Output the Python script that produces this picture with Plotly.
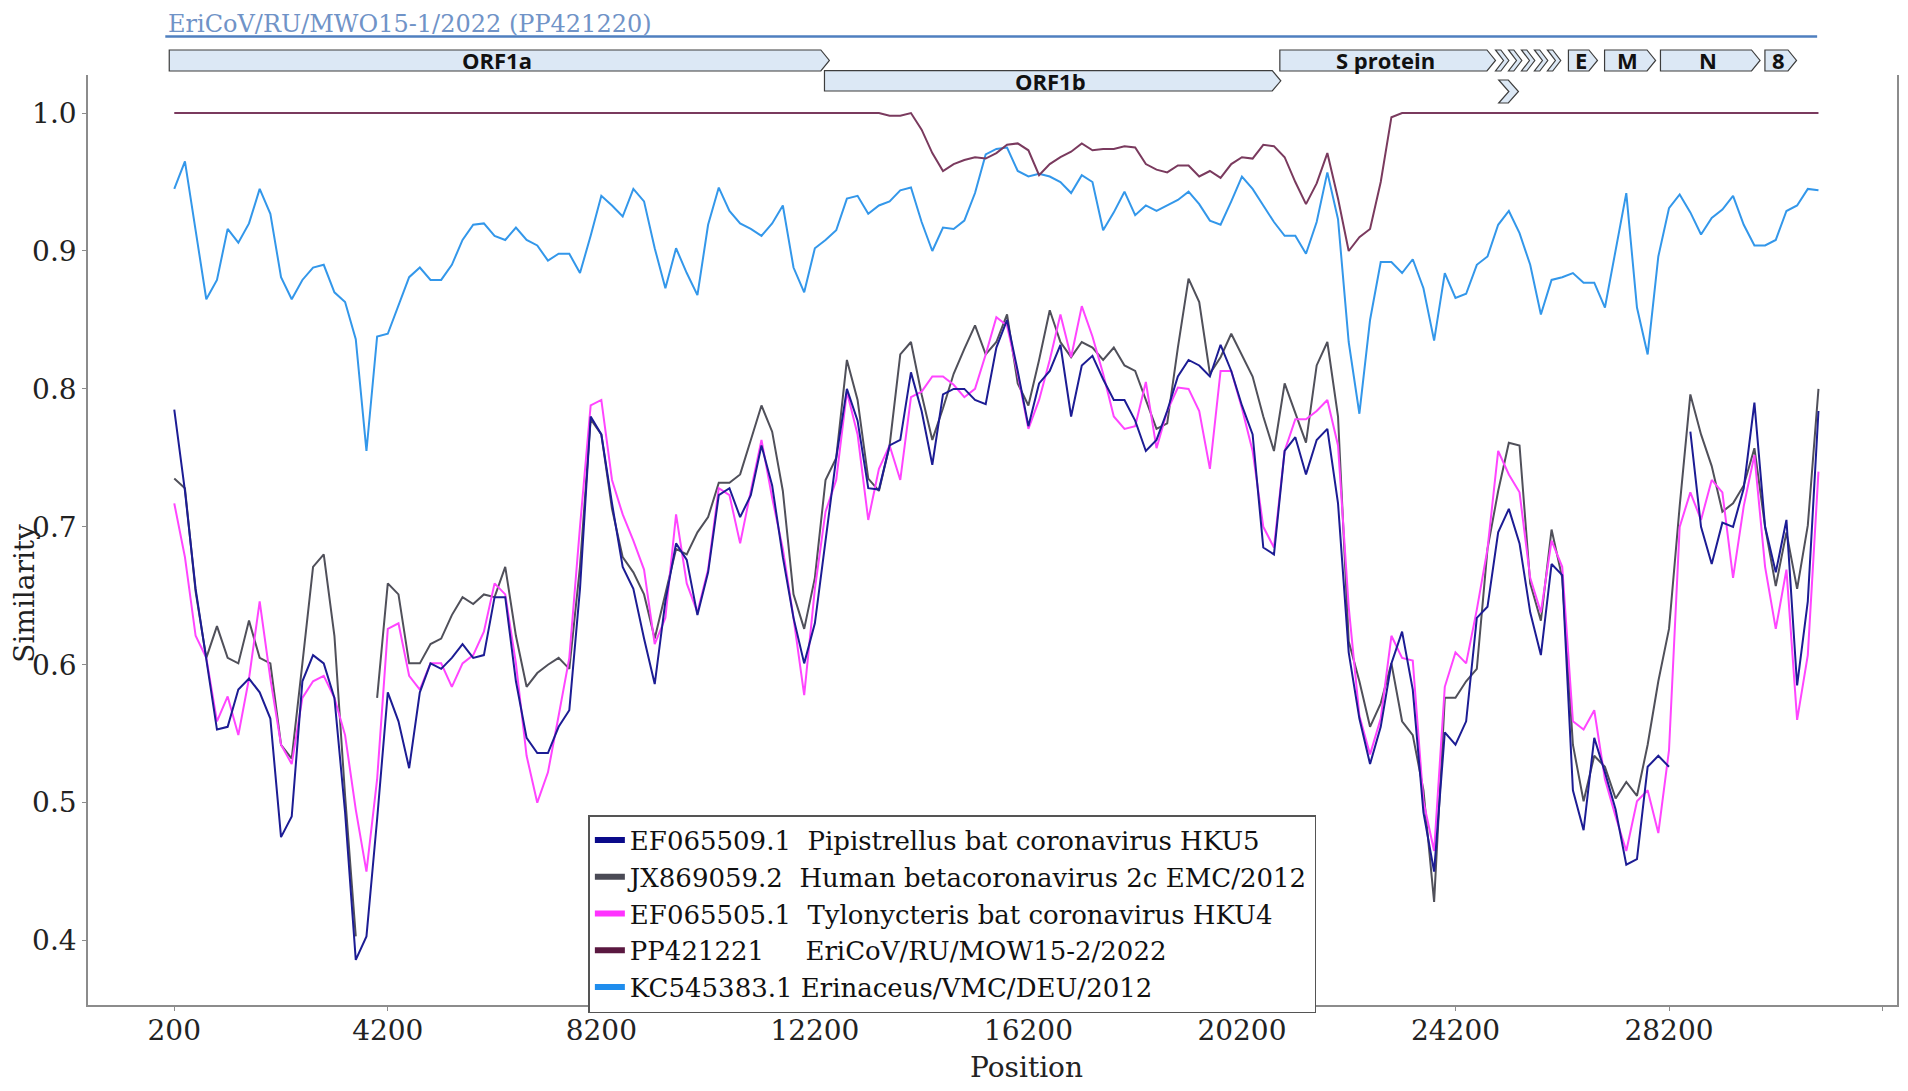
import plotly.graph_objects as go

# window centres along the genome (bp)
positions = [
    200, 400, 600, 800, 1000, 1200, 1400, 1600, 1800, 2000,
    2200, 2400, 2600, 2800, 3000, 3200, 3400, 3600, 3800, 4000,
    4200, 4400, 4600, 4800, 5000, 5200, 5400, 5600, 5800, 6000,
    6200, 6400, 6600, 6800, 7000, 7200, 7400, 7600, 7800, 8000,
    8200, 8400, 8600, 8800, 9000, 9200, 9400, 9600, 9800, 10000,
    10200, 10400, 10600, 10800, 11000, 11200, 11400, 11600, 11800, 12000,
    12200, 12400, 12600, 12800, 13000, 13200, 13400, 13600, 13800, 14000,
    14200, 14400, 14600, 14800, 15000, 15200, 15400, 15600, 15800, 16000,
    16200, 16400, 16600, 16800, 17000, 17200, 17400, 17600, 17800, 18000,
    18200, 18400, 18600, 18800, 19000, 19200, 19400, 19600, 19800, 20000,
    20200, 20400, 20600, 20800, 21000, 21200, 21400, 21600, 21800, 22000,
    22200, 22400, 22600, 22800, 23000, 23200, 23400, 23600, 23800, 24000,
    24200, 24400, 24600, 24800, 25000, 25200, 25400, 25600, 25800, 26000,
    26200, 26400, 26600, 26800, 27000, 27200, 27400, 27600, 27800, 28000,
    28200, 28400, 28600, 28800, 29000, 29200, 29400, 29600, 29800, 30000,
    30200, 30400, 30600, 30800, 31000,
]

hku5 = [
    0.785, 0.726, 0.655, 0.603, 0.553, 0.555, 0.582, 0.590, 0.580, 0.561,
    0.475, 0.490, 0.588, 0.607, 0.601, 0.576, 0.493, 0.386, 0.403, 0.488,
    0.580, 0.559, 0.525, 0.580, 0.601, 0.597, 0.605, 0.615, 0.605, 0.607,
    0.649, 0.649, 0.588, 0.547, 0.536, 0.536, 0.555, 0.567, 0.655, 0.780,
    0.767, 0.717, 0.671, 0.655, 0.619, 0.586, 0.646, 0.688, 0.676, 0.636,
    0.667, 0.723, 0.728, 0.707, 0.723, 0.759, 0.730, 0.678, 0.634, 0.601,
    0.630, 0.690, 0.750, 0.800, 0.777, 0.728, 0.727, 0.759, 0.763, 0.812,
    0.784, 0.745, 0.796, 0.800, 0.800, 0.792, 0.789, 0.830, 0.850, 0.813,
    0.773, 0.804, 0.813, 0.832, 0.780, 0.817, 0.824, 0.807, 0.792, 0.792,
    0.777, 0.755, 0.763, 0.784, 0.809, 0.821, 0.817, 0.809, 0.832, 0.813,
    0.788, 0.767, 0.685, 0.680, 0.755, 0.765, 0.738, 0.763, 0.771, 0.717,
    0.609, 0.561, 0.528, 0.555, 0.601, 0.624, 0.582, 0.493, 0.450, 0.551,
    0.542, 0.559, 0.634, 0.642, 0.696, 0.713, 0.688, 0.638, 0.607, 0.673,
    0.665, 0.509, 0.480, 0.547, 0.522, 0.495, 0.455, 0.459, 0.526, 0.534,
    0.526, None, 0.769, 0.700, 0.673, 0.703, 0.700, 0.728, 0.790, 0.700,
    0.667, 0.705, 0.585, 0.646, 0.784,
]

emc_2012 = [
    0.735, 0.728, 0.653, 0.605, 0.628, 0.605, 0.601, 0.632, 0.605, 0.601,
    0.542, 0.532, 0.601, 0.671, 0.680, 0.621, 0.505, 0.403, None, 0.576,
    0.659, 0.651, 0.601, 0.601, 0.615, 0.619, 0.636, 0.649, 0.644, 0.651,
    0.649, 0.671, 0.621, 0.584, 0.594, 0.600, 0.605, 0.597, 0.671, 0.778,
    0.767, 0.713, 0.678, 0.667, 0.651, 0.619, 0.651, 0.684, 0.680, 0.696,
    0.707, 0.732, 0.732, 0.738, 0.763, 0.788, 0.769, 0.726, 0.651, 0.626,
    0.663, 0.734, 0.750, 0.821, 0.792, 0.735, 0.726, 0.759, 0.825, 0.834,
    0.796, 0.763, 0.786, 0.811, 0.829, 0.846, 0.825, 0.834, 0.854, 0.804,
    0.788, 0.821, 0.857, 0.834, 0.823, 0.834, 0.830, 0.821, 0.830, 0.817,
    0.813, 0.792, 0.771, 0.775, 0.830, 0.880, 0.863, 0.811, 0.823, 0.840,
    0.825, 0.809, 0.780, 0.755, 0.804, 0.782, 0.761, 0.817, 0.834, 0.780,
    0.617, 0.588, 0.555, 0.572, 0.601, 0.559, 0.549, 0.509, 0.428, 0.576,
    0.576, 0.588, 0.597, 0.684, 0.726, 0.761, 0.759, 0.659, 0.632, 0.698,
    0.663, 0.542, 0.501, 0.534, 0.526, 0.503, 0.515, 0.505, 0.542, 0.588,
    0.626, 0.715, 0.796, 0.767, 0.744, 0.711, 0.717, 0.730, 0.757, 0.700,
    0.657, 0.696, 0.655, 0.701, 0.800,
]

hku4 = [
    0.717, 0.678, 0.621, 0.605, 0.559, 0.577, 0.549, 0.590, 0.646, 0.590,
    0.542, 0.528, 0.576, 0.588, 0.592, 0.576, 0.549, 0.495, 0.450, 0.517,
    0.626, 0.630, 0.592, 0.582, 0.601, 0.601, 0.584, 0.601, 0.607, 0.624,
    0.659, 0.651, 0.601, 0.534, 0.500, 0.522, 0.563, 0.605, 0.700, 0.788,
    0.792, 0.734, 0.709, 0.690, 0.669, 0.615, 0.634, 0.709, 0.659, 0.638,
    0.669, 0.728, 0.723, 0.688, 0.726, 0.763, 0.721, 0.684, 0.634, 0.578,
    0.655, 0.711, 0.734, 0.798, 0.767, 0.705, 0.742, 0.759, 0.734, 0.794,
    0.798, 0.809, 0.809, 0.803, 0.794, 0.800, 0.825, 0.852, 0.846, 0.811,
    0.771, 0.792, 0.821, 0.854, 0.823, 0.860, 0.838, 0.811, 0.780, 0.771,
    0.773, 0.805, 0.757, 0.784, 0.801, 0.800, 0.784, 0.742, 0.813, 0.813,
    0.786, 0.755, 0.700, 0.685, 0.755, 0.778, 0.778, 0.784, 0.792, 0.759,
    0.642, 0.563, 0.535, 0.561, 0.621, 0.605, 0.603, 0.501, 0.465, 0.584,
    0.609, 0.601, 0.640, 0.684, 0.755, 0.738, 0.725, 0.663, 0.638, 0.690,
    0.671, 0.559, 0.553, 0.567, 0.517, 0.490, 0.465, 0.501, 0.509, 0.478,
    0.538, 0.700, 0.725, 0.705, 0.734, 0.725, 0.663, 0.715, 0.752, 0.671,
    0.626, 0.669, 0.560, 0.607, 0.740,
]

mow15_2 = [
    1.0, 1.0, 1.0, 1.0, 1.0, 1.0, 1.0, 1.0, 1.0, 1.0,
    1.0, 1.0, 1.0, 1.0, 1.0, 1.0, 1.0, 1.0, 1.0, 1.0,
    1.0, 1.0, 1.0, 1.0, 1.0, 1.0, 1.0, 1.0, 1.0, 1.0,
    1.0, 1.0, 1.0, 1.0, 1.0, 1.0, 1.0, 1.0, 1.0, 1.0,
    1.0, 1.0, 1.0, 1.0, 1.0, 1.0, 1.0, 1.0, 1.0, 1.0,
    1.0, 1.0, 1.0, 1.0, 1.0, 1.0, 1.0, 1.0, 1.0, 1.0,
    1.0, 1.0, 1.0, 1.0, 1.0, 1.0, 1.0, 0.998, 0.998, 1.0,
    0.988, 0.971, 0.958, 0.963, 0.966, 0.968, 0.967, 0.971, 0.977, 0.978,
    0.973, 0.955, 0.963, 0.968, 0.972, 0.978, 0.973, 0.974, 0.974, 0.976,
    0.975, 0.963, 0.959, 0.957, 0.962, 0.962, 0.954, 0.958, 0.953, 0.963,
    0.968, 0.967, 0.977, 0.976, 0.968, 0.950, 0.934, 0.949, 0.971, 0.938,
    0.900, 0.910, 0.916, 0.950, 0.997, 1.0, 1.0, 1.0, 1.0, 1.0,
    1.0, 1.0, 1.0, 1.0, 1.0, 1.0, 1.0, 1.0, 1.0, 1.0,
    1.0, 1.0, 1.0, 1.0, 1.0, 1.0, 1.0, 1.0, 1.0, 1.0,
    1.0, 1.0, 1.0, 1.0, 1.0, 1.0, 1.0, 1.0, 1.0, 1.0,
    1.0, 1.0, 1.0, 1.0, 1.0,
]

erinaceus_deu = [
    0.945, 0.965, 0.915, 0.865, 0.879, 0.916, 0.906, 0.920, 0.945, 0.927,
    0.881, 0.865, 0.879, 0.888, 0.890, 0.870, 0.863, 0.836, 0.755, 0.838,
    0.840, 0.861, 0.881, 0.888, 0.879, 0.879, 0.890, 0.908, 0.919, 0.920,
    0.911, 0.908, 0.917, 0.908, 0.904, 0.893, 0.898, 0.898, 0.884, 0.911,
    0.940, 0.933, 0.925, 0.945, 0.936, 0.902, 0.873, 0.902, 0.884, 0.868,
    0.919, 0.946, 0.929, 0.920, 0.916, 0.911, 0.920, 0.933, 0.888, 0.870,
    0.902, 0.908, 0.915, 0.938, 0.940, 0.927, 0.933, 0.936, 0.944, 0.946,
    0.921, 0.900, 0.917, 0.916, 0.922, 0.942, 0.970, 0.974, 0.975, 0.958,
    0.954, 0.956, 0.954, 0.950, 0.942, 0.955, 0.950, 0.915, 0.928, 0.943,
    0.926, 0.933, 0.929, 0.933, 0.937, 0.943, 0.934, 0.922, 0.919, 0.936,
    0.954, 0.945, 0.933, 0.921, 0.911, 0.911, 0.898, 0.921, 0.957, 0.923,
    0.834, 0.782, 0.850, 0.892, 0.892, 0.884, 0.894, 0.873, 0.835, 0.884,
    0.866, 0.869, 0.890, 0.896, 0.919, 0.929, 0.913, 0.890, 0.854, 0.879,
    0.881, 0.884, 0.877, 0.877, 0.859, 0.902, 0.942, 0.859, 0.825, 0.896,
    0.931, 0.941, 0.928, 0.912, 0.924, 0.930, 0.940, 0.919, 0.904, 0.904,
    0.908, 0.929, 0.933, 0.945, 0.944,
]

series_labels = [
    "EF065509.1\u00a0\u00a0Pipistrellus bat coronavirus HKU5",
    "JX869059.2\u00a0\u00a0Human betacoronavirus 2c EMC/2012",
    "EF065505.1\u00a0\u00a0Tylonycteris bat coronavirus HKU4",
    "PP421221\u00a0\u00a0\u00a0\u00a0\u00a0EriCoV/RU/MOW15-2/2022",
    "KC545383.1\u00a0Erinaceus/VMC/DEU/2012",
]
series_values = [hku5, emc_2012, hku4, mow15_2, erinaceus_deu]
line_colors = ["#1c1c94", "#50505a", "#ff45ff", "#7a3a5e", "#3397ea"]
swatch_colors = ["#0a0a8a", "#4a4a55", "#ff33ff", "#5a1840", "#1f8ded"]

# genome map of the query sequence
query_name = "EriCoV/RU/MWO15-1/2022 (PP421220)"
query_span = [32, 30975]
gene_names = ["ORF1a", "ORF1b", "S protein", "E", "M", "N", "8"]
gene_starts = [106, 12380, 20910, 26316, 26993, 28040, 29997]
gene_ends = [12472, 20928, 24950, 26860, 27949, 29906, 30589]
gene_rows = [0, 1, 0, 0, 0, 0, 0]
small_orf_starts = [24950, 25193, 25436, 25679, 25922, 25010]
small_orf_ends = [25200, 25443, 25686, 25929, 26172, 25380]
small_orf_rows = [0, 0, 0, 0, 0, 2]

x_ticks = [200, 4200, 8200, 12200, 16200, 20200, 24200, 28200, 32200]
x_tick_text = ["200", "4200", "8200", "12200", "16200", "20200", "24200", "28200", ""]
y_ticks = [0.4, 0.5, 0.6, 0.7, 0.8, 0.9, 1.0]

# paper-y extents of the gene map rows (bottom, top)
row_extent = {0: (1.0043, 1.0269), 1: (0.9828, 1.0048), 2: (0.9699, 0.9946)}
BOX_FILL = "#dce8f5"
BOX_LINE = "#3d3d3d"
SERIF = "DejaVu Serif"


def arrow_path(x0, x1, y0, y1, tip):
    ym = (y0 + y1) / 2
    return f"M {x0},{y1} L {x1 - tip},{y1} L {x1},{ym} L {x1 - tip},{y0} L {x0},{y0} Z"


def chevron_path(x0, x1, y0, y1, tip):
    ym = (y0 + y1) / 2
    return (f"M {x0},{y1} L {x1 - tip},{y1} L {x1},{ym} L {x1 - tip},{y0} "
            f"L {x0},{y0} L {x0 + tip},{ym} Z")


fig = go.Figure()

# draw order: grey, magenta, navy, light blue, maroon
for i in [1, 2, 0, 4, 3]:
    fig.add_trace(go.Scatter(
        x=positions, y=series_values[i], mode="lines",
        line=dict(color=line_colors[i], width=2),
        connectgaps=False, showlegend=False, hoverinfo="skip",
    ))

# legend entries with thick swatches
for label, color in zip(series_labels, swatch_colors):
    fig.add_trace(go.Scatter(
        x=[None], y=[None], mode="lines", name=label,
        line=dict(color=color, width=6),
    ))

shapes = []
annotations = []

shapes.append(dict(
    type="line", xref="x", yref="paper",
    x0=query_span[0], x1=query_span[1], y0=1.0414, y1=1.0414,
    line=dict(color="#4f7fbf", width=2.5),
))
annotations.append(dict(
    text=query_name, xref="x", yref="paper", x=60, y=1.0548,
    xanchor="left", yanchor="middle", showarrow=False, borderpad=0,
    font=dict(family=SERIF, size=24, color="#7093c7"),
))

for name, start, end, row in zip(gene_names, gene_starts, gene_ends, gene_rows):
    y0, y1 = row_extent[row]
    shapes.append(dict(
        type="path", xref="x", yref="paper",
        path=arrow_path(start, end, y0, y1, 160),
        fillcolor=BOX_FILL, line=dict(color=BOX_LINE, width=1.2),
    ))
    annotations.append(dict(
        text=f"<b>{name}</b>", xref="x", yref="paper",
        x=(start + end) / 2 - 40, y=(y0 + y1) / 2,
        xanchor="center", yanchor="middle", showarrow=False,
        font=dict(family="Open Sans", size=22, color="#111111"),
    ))

for start, end, row in zip(small_orf_starts, small_orf_ends, small_orf_rows):
    y0, y1 = row_extent[row]
    shapes.append(dict(
        type="path", xref="x", yref="paper",
        path=chevron_path(start, end, y0, y1, 150 if row == 0 else 190),
        fillcolor=BOX_FILL, line=dict(color=BOX_LINE, width=1.2),
    ))

annotations.append(dict(
    text="Similarity", xref="paper", yref="paper", x=-0.0355, y=0.443,
    textangle=-90, xanchor="center", yanchor="middle", showarrow=False,
    font=dict(family=SERIF, size=28, color="#222222"),
))
annotations.append(dict(
    text="Position", xref="paper", yref="paper", x=0.519, y=-0.0667,
    xanchor="center", yanchor="middle", showarrow=False,
    font=dict(family=SERIF, size=28, color="#222222"),
))

axis_style = dict(
    showgrid=False, zeroline=False, showline=True,
    linecolor="#8c8c8c", linewidth=1.5,
    ticks="outside", ticklen=4, tickwidth=1.2, tickcolor="#8c8c8c",
    tickfont=dict(family=SERIF, size=28, color="#222222"),
)

# the page body adds an 8 px margin, so the figure is sized to sit inside it
fig.update_layout(
    width=1892, height=1075,
    margin=dict(l=80, r=1, t=67, b=78),
    paper_bgcolor="white", plot_bgcolor="white",
    font=dict(family=SERIF, size=28, color="#222222"),
    xaxis=dict(range=[-1416, 32471], tickvals=x_ticks, ticktext=x_tick_text,
               ticklabelstandoff=-4, **axis_style),
    yaxis=dict(range=[0.3533, 1.0276], tickvals=y_ticks, tickformat=".1f",
               mirror=True, **axis_style),
    legend=dict(
        x=0.2766, y=0.2043, xanchor="left", yanchor="top",
        bgcolor="white", bordercolor="#555555", borderwidth=1.5,
        font=dict(family=SERIF, size=26, color="#111111"),
        itemwidth=30, tracegroupgap=0,
    ),
    shapes=shapes,
    annotations=annotations,
)

fig.write_html("out.html")
